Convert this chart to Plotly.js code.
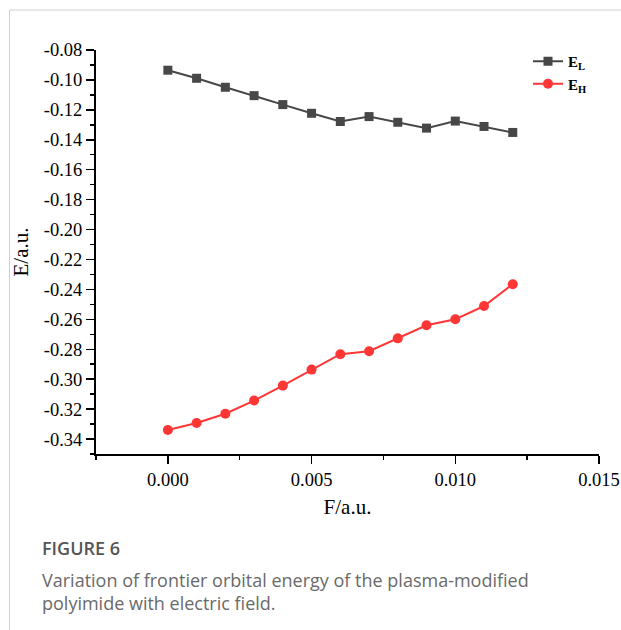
<!DOCTYPE html>
<html>
<head>
<meta charset="utf-8">
<script src="https://cdn.plot.ly/plotly-3.0.1.min.js"></script>
<style>
html,body{margin:0;padding:0;background:#fff;}
#chart{width:621px;height:630px;}
</style>
</head>
<body>
<div id="chart"></div>
<script>
// ---- data ----
const fieldF = [0.000, 0.001, 0.002, 0.003, 0.004, 0.005, 0.006, 0.007, 0.008, 0.009, 0.010, 0.011, 0.012];
const energyEL = [-0.0935, -0.0989, -0.1049, -0.1105, -0.1165, -0.1223, -0.1278, -0.1245, -0.1283, -0.1322, -0.1275, -0.1311, -0.1351];
const energyEH = [-0.3340, -0.3293, -0.3231, -0.3143, -0.3043, -0.2936, -0.2833, -0.2813, -0.2727, -0.2640, -0.2600, -0.2511, -0.2365];
const seriesNames = ['<b>E<sub>L</sub></b>', '<b>E<sub>H</sub></b>'];
const yTickVals = [-0.08, -0.10, -0.12, -0.14, -0.16, -0.18, -0.20, -0.22, -0.24, -0.26, -0.28, -0.30, -0.32, -0.34];
const yTickLabels = ['-0.08', '-0.10', '-0.12', '-0.14', '-0.16', '-0.18', '-0.20', '-0.22', '-0.24', '-0.26', '-0.28', '-0.30', '-0.32', '-0.34'];
const xTickVals = [0.000, 0.005, 0.010, 0.015];
const xTickLabels = ['0.000', '0.005', '0.010', '0.015'];
const captionTitle = 'FIGURE 6';
const captionText = 'Variation of frontier orbital energy of the plasma-modified<br>polyimide with electric field.';

// ---- layout geometry (pixels) ----
const W = 621, H = 630;
const L = 96, R = 599, T = 50, B = 454;
const pw = R - L, ph = B - T;
const px = x => (x - L) / pw;
const py = y => (B - y) / ph;

const serif = 'Liberation Serif, Times New Roman, serif';

const traces = [
  {
    x: fieldF, y: energyEL, name: seriesNames[0], type: 'scatter', mode: 'lines+markers',
    line: {color: '#474747', width: 2},
    marker: {symbol: 'square', size: 9, color: '#474747'}
  },
  {
    x: fieldF, y: energyEH, name: seriesNames[1], type: 'scatter', mode: 'lines+markers',
    line: {color: '#ff3636', width: 2},
    marker: {symbol: 'circle', size: 10, color: '#ff3636'}
  }
];

const layout = {
  width: W, height: H,
  margin: {l: L, r: W - R, t: T, b: H - B, pad: 0},
  paper_bgcolor: '#fff', plot_bgcolor: '#fff',
  showlegend: true,
  legend: {
    x: px(528), y: py(45), xanchor: 'left', yanchor: 'top',
    font: {family: serif, size: 15, color: '#000'},
    bgcolor: 'rgba(0,0,0,0)', tracegroupgap: 0
  },
  xaxis: {
    range: [-0.0025, 0.015],
    tickmode: 'array', tickvals: xTickVals, ticktext: xTickLabels,
    ticks: 'outside', ticklen: 8, tickwidth: 1.5, tickcolor: '#000',
    minor: {dtick: 0.0025, tick0: 0, ticks: 'outside', ticklen: 4, tickwidth: 1.5, tickcolor: '#000'},
    showline: true, linecolor: '#000', linewidth: 2,
    showgrid: false, zeroline: false,
    tickfont: {family: serif, size: 18.5, color: '#000'},
    title: {text: 'F/a.u.', font: {family: serif, size: 21, color: '#000'}, standoff: 10},
    automargin: false
  },
  yaxis: {
    range: [-0.35, -0.08],
    tickmode: 'array', tickvals: yTickVals, ticktext: yTickLabels,
    ticks: 'outside', ticklen: 8, tickwidth: 1.5, tickcolor: '#000',
    minor: {dtick: 0.01, tick0: -0.08, ticks: 'outside', ticklen: 4, tickwidth: 1.5, tickcolor: '#000'},
    showline: true, linecolor: '#000', linewidth: 2,
    showgrid: false, zeroline: false,
    tickfont: {family: serif, size: 18.5, color: '#000'},
    title: {text: 'E/a.u.', font: {family: serif, size: 21, color: '#000'}, standoff: 9},
    automargin: false
  },
  shapes: [
    {type: 'line', xref: 'paper', yref: 'paper', x0: px(9.5), x1: px(W + 5), y0: py(10), y1: py(10), line: {color: '#d0d0d0', width: 1}},
    {type: 'line', xref: 'paper', yref: 'paper', x0: px(9.5), x1: px(9.5), y0: py(10), y1: py(H + 5), line: {color: '#d0d0d0', width: 1}}
  ],
  annotations: [
    {xref: 'paper', yref: 'paper', x: px(40), y: py(548), xanchor: 'left', yanchor: 'middle', showarrow: false,
     text: captionTitle, font: {family: 'Open Sans, sans-serif', size: 18, color: '#555', weight: 600}},
    {xref: 'paper', yref: 'paper', x: px(40), y: py(566), xanchor: 'left', yanchor: 'top', showarrow: false, align: 'left',
     text: captionText, font: {family: 'Open Sans, sans-serif', size: 18, color: '#6a6a6a'}}
  ]
};

Plotly.newPlot('chart', traces, layout, {displayModeBar: false, staticPlot: true});
</script>
</body>
</html>
